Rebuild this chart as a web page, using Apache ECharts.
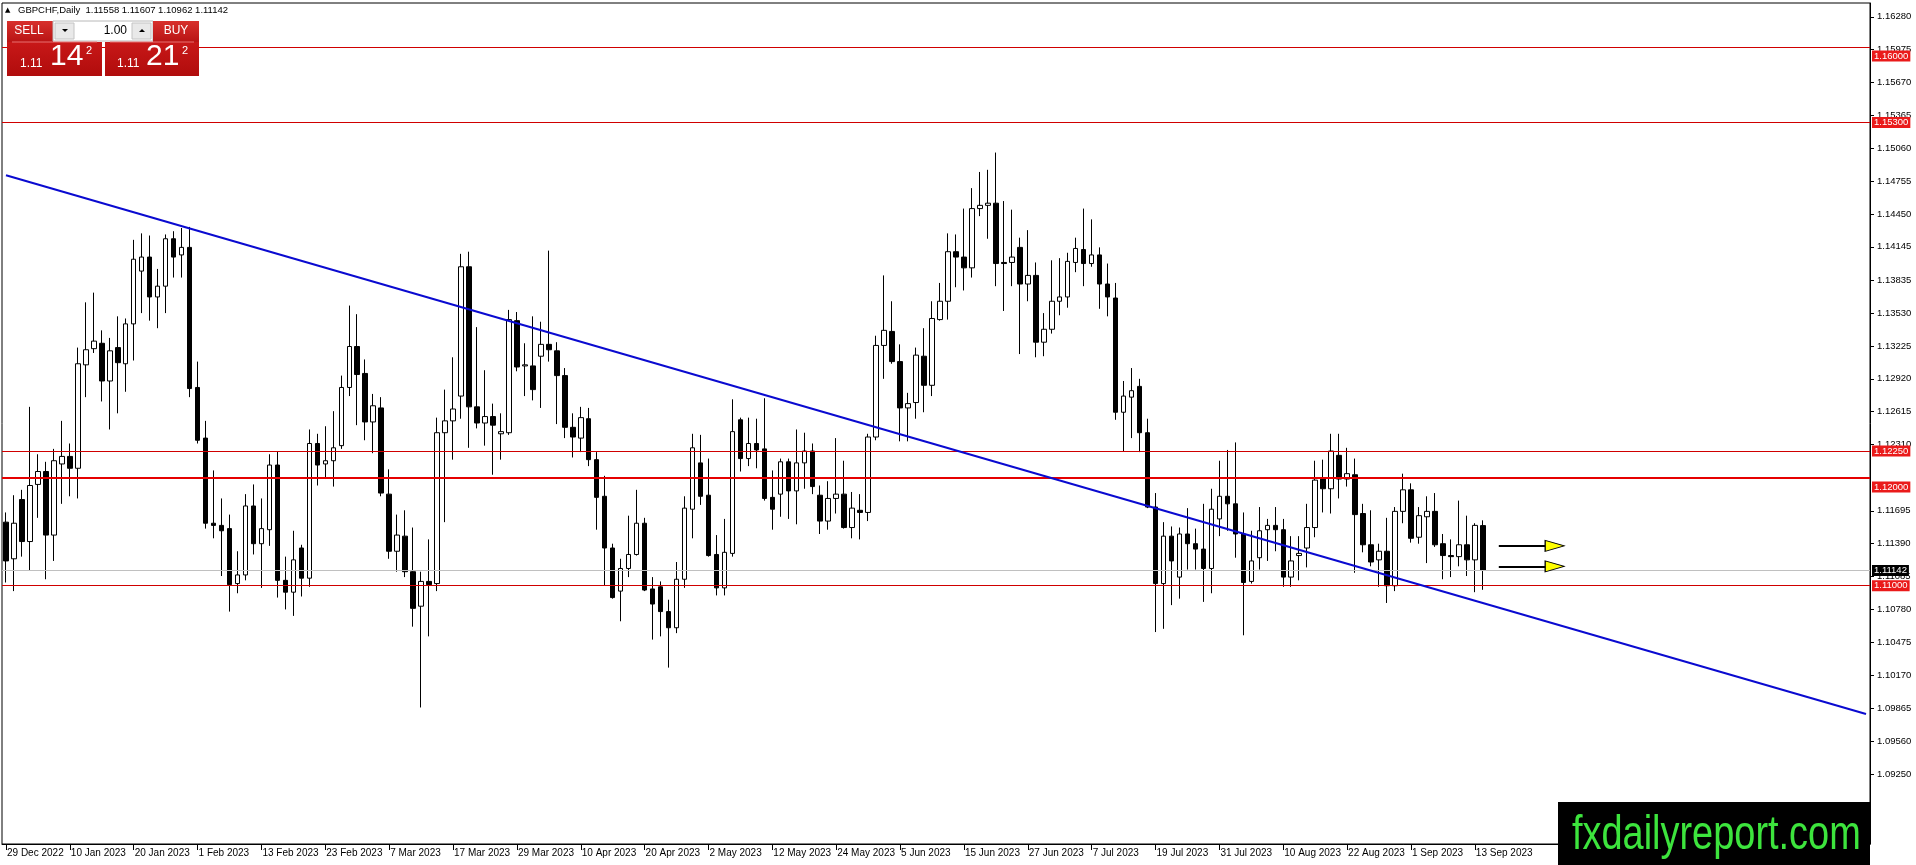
<!DOCTYPE html>
<html>
<head>
<meta charset="utf-8">
<script src="https://cdn.jsdelivr.net/npm/echarts@6/dist/echarts.min.js"></script>
<style>
html,body{margin:0;padding:0;background:#fff;overflow:hidden;}
#chart{width:1916px;height:865px;}
</style>
</head>
<body>
<div id="chart"></div>
<script>
// ---------- data ----------
const symbolName = 'GBPCHF';
const timeframe = 'Daily';
const firstBarDate = [2022, 11, 29];   // 29 Dec 2022 (UTC y, m0, d)
const slotCount = 234;                 // bar slots across the visible chart width

const opens = [
1.1159,1.1125,1.1180,1.1141,1.1194,1.1206,1.1147,1.1213,1.1220,1.1209,
1.1305,1.1320,1.1325,1.1290,1.1321,1.1306,1.1343,1.1392,1.1405,1.1368,
1.1378,1.1422,1.1407,1.1414,1.1284,1.1237,1.1158,1.1156,1.1153,1.1102,
1.1110,1.1174,1.1139,1.1152,1.1212,1.1105,1.1094,1.1135,1.1107,1.1232,
1.1213,1.1216,1.1230,1.1284,1.1322,1.1297,1.1252,1.1265,1.1185,1.1132,
1.1146,1.1113,1.1081,1.1104,1.1102,1.1242,1.1253,1.1276,1.1396,1.1266,
1.1251,1.1257,1.1241,1.1242,1.1346,1.1304,1.1304,1.1313,1.1324,1.1318,
1.1295,1.1247,1.1237,1.1255,1.1217,1.1183,1.1135,1.1095,1.1116,1.1129,
1.1158,1.1097,1.1099,1.1076,1.1061,1.1106,1.1171,1.1214,1.1184,1.1129,
1.1098,1.1130,1.1254,1.1218,1.1232,1.1227,1.1182,1.1185,1.1215,1.1188,
1.1214,1.1225,1.1184,1.1160,1.1181,1.1185,1.1154,1.1170,1.1168,1.1238,
1.1323,1.1336,1.1308,1.1265,1.1270,1.1313,1.1286,1.1347,1.1364,1.1410,
1.1405,1.1395,1.1450,1.1453,1.1455,1.1400,1.1400,1.1414,1.1380,1.1388,
1.1326,1.1338,1.1364,1.1368,1.1400,1.1412,1.1399,1.1407,1.1380,1.1367,
1.1261,1.1275,1.1285,1.1242,1.1173,1.1102,1.1146,1.1108,1.1148,1.1139,
1.1134,1.1116,1.1162,1.1183,1.1176,1.1148,1.1104,1.1126,1.1152,1.1156,
1.1152,1.1108,1.1128,1.1135,1.1154,1.1199,1.1190,1.1221,1.1199,1.1203,
1.1167,1.1138,1.1124,1.1132,1.1100,1.1169,1.1189,1.1145,1.1164,1.1169,
1.1139,1.1128,1.1127,1.1138,1.1124,1.11558];

const highs = [
1.1168,1.1184,1.1189,1.1266,1.1222,1.1215,1.1227,1.1253,1.1232,1.1321,
1.1363,1.1372,1.1337,1.1330,1.1350,1.1348,1.1421,1.1427,1.1425,1.1394,
1.1426,1.1429,1.1432,1.1433,1.1308,1.1253,1.1207,1.1181,1.1166,1.1132,
1.1185,1.1194,1.1181,1.1222,1.1225,1.1127,1.1151,1.1138,1.1245,1.1241,
1.1248,1.1262,1.1295,1.1360,1.1352,1.1310,1.1278,1.1275,1.1208,1.1166,
1.1170,1.1154,1.1113,1.1143,1.1256,1.1282,1.1312,1.1408,1.1410,1.1340,
1.1300,1.1269,1.1260,1.1356,1.1354,1.1325,1.1350,1.1345,1.1411,1.1326,
1.1302,1.1260,1.1266,1.1265,1.1224,1.1202,1.1139,1.1125,1.1165,1.1189,
1.1163,1.1108,1.1104,1.1087,1.1122,1.1183,1.1241,1.1240,1.1218,1.1147,
1.1162,1.1273,1.1256,1.1256,1.1255,1.1274,1.1207,1.1218,1.1218,1.1245,
1.1242,1.1232,1.1193,1.1197,1.1237,1.1216,1.1187,1.1185,1.1241,1.1332,
1.1388,1.1364,1.1324,1.1279,1.1321,1.1339,1.1364,1.1381,1.1427,1.1426,
1.1450,1.1469,1.1484,1.1486,1.1502,1.1457,1.1449,1.1423,1.1430,1.1400,
1.1353,1.1402,1.1404,1.1409,1.1423,1.1450,1.1440,1.1414,1.1399,1.1381,
1.1290,1.1302,1.1292,1.1255,1.1186,1.1159,1.1155,1.1154,1.1172,1.1153,
1.1176,1.1190,1.1216,1.1226,1.1233,1.1168,1.1151,1.1173,1.1162,1.1173,
1.1162,1.1146,1.1146,1.1176,1.1216,1.1217,1.1241,1.1241,1.1228,1.1218,
1.1176,1.1170,1.1139,1.1163,1.1173,1.1204,1.1195,1.1173,1.1183,1.1186,
1.1148,1.1143,1.1179,1.1165,1.1158,1.11607];

const lows = [
1.1103,1.1095,1.1127,1.1114,1.1163,1.1106,1.1123,1.1176,1.1183,1.1181,
1.1275,1.1316,1.1271,1.1245,1.1260,1.1280,1.1309,1.1353,1.1346,1.1339,
1.1353,1.1386,1.1386,1.1275,1.1232,1.1153,1.1144,1.1109,1.1076,1.1093,
1.1105,1.1129,1.1098,1.1137,1.1089,1.1078,1.1072,1.1090,1.1099,1.1193,
1.1199,1.1192,1.1227,1.1276,1.1249,1.1235,1.1223,1.1183,1.1125,1.1113,
1.1108,1.1062,1.0987,1.1053,1.1095,1.1159,1.1217,1.1255,1.1228,1.1246,
1.1230,1.1203,1.1217,1.1240,1.1299,1.1276,1.1272,1.1265,1.1308,1.1250,
1.1237,1.1219,1.1224,1.1211,1.1152,1.1100,1.1088,1.1067,1.1108,1.1128,
1.1095,1.1050,1.1053,1.1024,1.1056,1.1098,1.1144,1.1175,1.1127,1.1091,
1.1091,1.1127,1.1206,1.1211,1.1209,1.1179,1.1152,1.1164,1.1162,1.1157,
1.1190,1.1185,1.1148,1.1152,1.1167,1.1153,1.1144,1.1143,1.1160,1.1235,
1.1292,1.1306,1.1234,1.1234,1.1255,1.1261,1.1276,1.1346,1.1347,1.1377,
1.1374,1.1386,1.1443,1.1422,1.1378,1.1355,1.1378,1.1315,1.1364,1.1312,
1.1313,1.1334,1.1351,1.1358,1.1391,1.1378,1.1396,1.1357,1.1350,1.1254,
1.1225,1.1237,1.1224,1.1172,1.1057,1.1060,1.1082,1.1088,1.1115,1.1115,
1.1085,1.1093,1.1146,1.1151,1.1126,1.1054,1.1102,1.1115,1.1123,1.1132,
1.1099,1.1099,1.1105,1.1117,1.1145,1.1168,1.1167,1.1181,1.1192,1.1112,
1.1131,1.1118,1.1099,1.1084,1.1095,1.1158,1.1140,1.1139,1.1121,1.1136,
1.1106,1.1108,1.1118,1.1109,1.1094,1.10962];

const closes = [
1.1123,1.1158,1.1141,1.1193,1.1206,1.1147,1.1216,1.1220,1.1209,1.1306,
1.1319,1.1327,1.1290,1.1318,1.1307,1.1343,1.1403,1.1405,1.1368,1.1378,
1.1422,1.1405,1.1414,1.1283,1.1235,1.1158,1.1156,1.1151,1.1101,1.1110,
1.1174,1.1139,1.1153,1.1212,1.1105,1.1094,1.1124,1.1107,1.1232,1.1212,
1.1216,1.1228,1.1284,1.1322,1.1296,1.1252,1.1267,1.1186,1.1132,1.1147,
1.1113,1.1079,1.1104,1.1101,1.1242,1.1253,1.1264,1.1396,1.1266,1.1251,
1.1257,1.1249,1.1243,1.1347,1.1303,1.1305,1.1282,1.1324,1.1319,1.1295,
1.1247,1.1238,1.1256,1.1217,1.1182,1.1135,1.1089,1.1116,1.1129,1.1158,
1.1096,1.1083,1.1076,1.1061,1.1106,1.1172,1.1228,1.1183,1.1128,1.1098,
1.1131,1.1243,1.1218,1.1232,1.1226,1.1181,1.1171,1.1215,1.1188,1.1214,
1.1225,1.1192,1.1160,1.1181,1.1185,1.1154,1.1172,1.1168,1.1238,1.1323,
1.1337,1.1308,1.1265,1.1269,1.1314,1.1286,1.1348,1.1364,1.1410,1.1405,
1.1395,1.1450,1.1453,1.1455,1.1399,1.1399,1.1405,1.1380,1.1388,1.1326,
1.1338,1.1364,1.1368,1.1401,1.1413,1.1399,1.1407,1.1380,1.1368,1.1261,
1.1276,1.1281,1.1242,1.1173,1.1102,1.1146,1.1123,1.1148,1.1139,1.1134,
1.1116,1.1171,1.1183,1.1176,1.1148,1.1103,1.1123,1.1151,1.1156,1.1152,
1.1108,1.1123,1.1130,1.1154,1.1198,1.1190,1.1225,1.1199,1.1204,1.1166,
1.1138,1.1122,1.1132,1.1100,1.1169,1.1189,1.1144,1.1165,1.1169,1.1138,
1.1128,1.1127,1.1138,1.1124,1.1156,1.11142];

const xTickLabels = ['29 Dec 2022','10 Jan 2023','20 Jan 2023','1 Feb 2023','13 Feb 2023','23 Feb 2023',
  '7 Mar 2023','17 Mar 2023','29 Mar 2023','10 Apr 2023','20 Apr 2023','2 May 2023','12 May 2023',
  '24 May 2023','5 Jun 2023','15 Jun 2023','27 Jun 2023','7 Jul 2023','19 Jul 2023','31 Jul 2023',
  '10 Aug 2023','22 Aug 2023','1 Sep 2023','13 Sep 2023'];
const xTickEvery = 8;

const yTickValues = [1.16280,1.15975,1.15670,1.15365,1.15060,1.14755,1.14450,1.14145,1.13835,1.13530,
  1.13225,1.12920,1.12615,1.12310,1.11695,1.11390,1.11085,1.10780,1.10475,1.10170,1.09865,1.09560,1.09250];
const yMin = 1.08603, yMax = 1.16408;

const levelLines = [1.16000, 1.15300, 1.12250, 1.12000, 1.11000];
const thickLevels = [1.12000];
const shiftedLabelLevels = [1.16000, 1.12000];
const currentPrice = 1.11142;

const trendStartIdx = 0,   trendStartValue = 1.1481;
const trendEndIdx   = 233, trendEndValue   = 1.0981;

const arrowLevels = [1.1137, 1.1118];
const arrowFromIdx = 187, arrowToIdx = 193, arrowHeadIdx = 194;

const sellQuote = ['1.11', '14', '2'];
const buyQuote  = ['1.11', '21', '2'];
const lotSize = '1.00';
const watermark = 'fxdailyreport.com';

// ---------- categories (weekday calendar) ----------
const monthNames = ['Jan','Feb','Mar','Apr','May','Jun','Jul','Aug','Sep','Oct','Nov','Dec'];
const categories = [];
{
  const d = new Date(Date.UTC(firstBarDate[0], firstBarDate[1], firstBarDate[2]));
  while (categories.length < slotCount) {
    const wd = d.getUTCDay();
    if (wd !== 0 && wd !== 6) categories.push(d.getUTCDate() + ' ' + monthNames[d.getUTCMonth()] + ' ' + d.getUTCFullYear());
    d.setUTCDate(d.getUTCDate() + 1);
  }
}

const candleData = opens.map((o, i) => [o, closes[i], lows[i], highs[i]]);
const last = opens.length - 1;
const headerText = symbolName + ',' + timeframe + '  ' + opens[last].toFixed(5) + ' ' + highs[last].toFixed(5) + ' ' +
  lows[last].toFixed(5) + ' ' + closes[last].toFixed(5);

const FONT = "'Liberation Sans', Arial, sans-serif";
const NARROW = "'Liberation Sans Narrow', 'Liberation Sans', Arial, sans-serif";
const isTick = (i) => i % xTickEvery === 0 && i / xTickEvery < xTickLabels.length;

const levelMarks = levelLines.map(v => ({
  yAxis: v,
  lineStyle: { color: thickLevels.includes(v) ? '#e60000' : '#d00000', width: thickLevels.includes(v) ? 2 : 1, type: 'solid' },
  label: {
    show: true, position: 'end', distance: 2, formatter: v.toFixed(5),
    backgroundColor: '#ea1a1a', color: '#fff', fontSize: 9.5, fontFamily: FONT,
    padding: [1, 2, 0, 2], lineHeight: 10,
    offset: shiftedLabelLevels.includes(v) ? [0, 9] : [0, 0]
  }
}));

const option = {
  animation: false,
  backgroundColor: '#fff',
  grid: { left: 2, top: 3, right: 46, bottom: 21, show: true, borderColor: '#000', borderWidth: 1, backgroundColor: '#fff' },
  xAxis: {
    type: 'category', data: categories, boundaryGap: true,
    axisLine: { show: true, lineStyle: { color: '#000', width: 1 } },
    axisTick: { show: true, alignWithLabel: true, interval: (i) => isTick(i), length: 6, lineStyle: { color: '#000' } },
    axisLabel: {
      interval: (i) => isTick(i),
      formatter: (val, i) => xTickLabels[Math.round(i / xTickEvery)],
      align: 'left', margin: 4, padding: [0, 0, 0, 1],
      fontSize: 10, fontFamily: NARROW, color: '#000'
    },
    splitLine: { show: false }
  },
  yAxis: {
    type: 'value', position: 'right', min: yMin, max: yMax, scale: true,
    axisLine: { show: true, lineStyle: { color: '#000', width: 1 } },
    axisTick: { show: true, length: 4, customValues: yTickValues, lineStyle: { color: '#000' } },
    axisLabel: { customValues: yTickValues, formatter: (v) => v.toFixed(5), margin: 7, fontSize: 9.5, fontFamily: FONT, color: '#000' },
    splitLine: { show: false }
  },
  series: [
    {
      type: 'candlestick', data: candleData, barWidth: 5,
      itemStyle: { color: '#ffffff', color0: '#000000', borderColor: '#000000', borderColor0: '#000000', borderWidth: 1 },
      markLine: {
        silent: true, symbol: ['none', 'none'], animation: false, precision: 6,
        data: [
          {
            yAxis: currentPrice,
            lineStyle: { color: '#c0c0c0', width: 1, type: 'solid' },
            label: { show: true, position: 'end', distance: 2, formatter: currentPrice.toFixed(5),
              backgroundColor: '#000', color: '#fff', fontSize: 9.5, fontFamily: FONT, padding: [1, 2, 0, 2], lineHeight: 10 }
          },
          ...levelMarks,
          [
            { coord: [categories[trendStartIdx], trendStartValue], lineStyle: { color: '#0a0ad0', width: 2, type: 'solid' }, label: { show: false } },
            { coord: [categories[trendEndIdx], trendEndValue] }
          ],
          ...arrowLevels.map(v => [
            { coord: [categories[arrowFromIdx], v], lineStyle: { color: '#000', width: 2, type: 'solid' }, label: { show: false } },
            { coord: [categories[arrowToIdx], v] }
          ])
        ]
      }
    },
    {
      type: 'scatter', silent: true,
      data: arrowLevels.map(v => [categories[arrowHeadIdx], v]),
      symbol: 'triangle', symbolRotate: -90, symbolSize: [11, 19],
      itemStyle: { color: '#ffff00', borderColor: '#000', borderWidth: 1, opacity: 1 },
      z: 5
    }
  ],
  graphic: [
    { type: 'text', x: 5, y: 10, z: 100, style: { text: '▲', fill: '#000', font: "7px 'DejaVu Sans'", verticalAlign: 'middle' } },
    { type: 'text', x: 18, y: 10, z: 100, style: { text: headerText, fill: '#000', font: '9.5px ' + FONT, verticalAlign: 'middle' } },
    // SELL tab
    { type: 'rect', z: 100, shape: { x: 7, y: 21, width: 46, height: 21 }, style: { fill: { type: 'linear', x: 0, y: 0, x2: 0, y2: 1, colorStops: [{ offset: 0, color: '#d8302c' }, { offset: 1, color: '#b81414' }] } } },
    { type: 'text', z: 101, x: 29, y: 31, style: { text: 'SELL', fill: '#fff', font: '12px ' + FONT, align: 'center', verticalAlign: 'middle' } },
    // lot box
    { type: 'rect', z: 100, shape: { x: 53, y: 21, width: 100, height: 20 }, style: { fill: '#fff', stroke: '#b8b8b8', lineWidth: 1 } },
    { type: 'rect', z: 101, shape: { x: 55, y: 23, width: 19, height: 16 }, style: { fill: '#e9e9e9', stroke: '#c4c4c4', lineWidth: 1 } },
    { type: 'polygon', z: 102, shape: { points: [[62, 29], [68, 29], [65, 32]] }, style: { fill: '#000' } },
    { type: 'text', z: 101, x: 127, y: 31, style: { text: lotSize, fill: '#000', font: '12px ' + FONT, align: 'right', verticalAlign: 'middle' } },
    { type: 'rect', z: 101, shape: { x: 132, y: 23, width: 19, height: 16 }, style: { fill: '#e9e9e9', stroke: '#c4c4c4', lineWidth: 1 } },
    { type: 'polygon', z: 102, shape: { points: [[139, 32], [145, 32], [142, 29]] }, style: { fill: '#000' } },
    // BUY tab
    { type: 'rect', z: 100, shape: { x: 153, y: 21, width: 46, height: 21 }, style: { fill: { type: 'linear', x: 0, y: 0, x2: 0, y2: 1, colorStops: [{ offset: 0, color: '#d8302c' }, { offset: 1, color: '#b81414' }] } } },
    { type: 'text', z: 101, x: 176, y: 31, style: { text: 'BUY', fill: '#fff', font: '12px ' + FONT, align: 'center', verticalAlign: 'middle' } },
    // big quote panels
    { type: 'rect', z: 100, shape: { x: 7, y: 42, width: 95, height: 34 }, style: { fill: { type: 'linear', x: 0, y: 0, x2: 0, y2: 1, colorStops: [{ offset: 0, color: '#c81818' }, { offset: 1, color: '#b00c0c' }] } } },
    { type: 'rect', z: 100, shape: { x: 105, y: 42, width: 94, height: 34 }, style: { fill: { type: 'linear', x: 0, y: 0, x2: 0, y2: 1, colorStops: [{ offset: 0, color: '#c81818' }, { offset: 1, color: '#b00c0c' }] } } },
    { type: 'line', z: 101, shape: { x1: 12, y1: 42, x2: 97, y2: 42 }, style: { stroke: '#e87070', lineWidth: 1 } },
    { type: 'line', z: 101, shape: { x1: 110, y1: 42, x2: 194, y2: 42 }, style: { stroke: '#e87070', lineWidth: 1 } },
    { type: 'text', z: 101, x: 20, y: 64, style: { text: sellQuote[0], fill: '#fff', font: '12px ' + FONT, verticalAlign: 'middle' } },
    { type: 'text', z: 101, x: 50, y: 57, style: { text: sellQuote[1], fill: '#fff', font: '30px ' + FONT, verticalAlign: 'middle' } },
    { type: 'text', z: 101, x: 86, y: 51, style: { text: sellQuote[2], fill: '#fff', font: '11px ' + FONT, verticalAlign: 'middle' } },
    { type: 'text', z: 101, x: 117, y: 64, style: { text: buyQuote[0], fill: '#fff', font: '12px ' + FONT, verticalAlign: 'middle' } },
    { type: 'text', z: 101, x: 146, y: 57, style: { text: buyQuote[1], fill: '#fff', font: '30px ' + FONT, verticalAlign: 'middle' } },
    { type: 'text', z: 101, x: 182, y: 51, style: { text: buyQuote[2], fill: '#fff', font: '11px ' + FONT, verticalAlign: 'middle' } },
    // watermark
    { type: 'rect', z: 100, shape: { x: 1558, y: 802, width: 312, height: 63 }, style: { fill: '#000' } },
    { type: 'text', z: 101, x: 1572, y: 836, scaleX: 0.79, style: { text: watermark, fill: '#3de43d', font: '48px ' + FONT, verticalAlign: 'middle' } }
  ]
};

const chart = echarts.init(document.getElementById('chart'), null, { renderer: 'canvas' });
chart.setOption(option);
</script>
</body>
</html>
